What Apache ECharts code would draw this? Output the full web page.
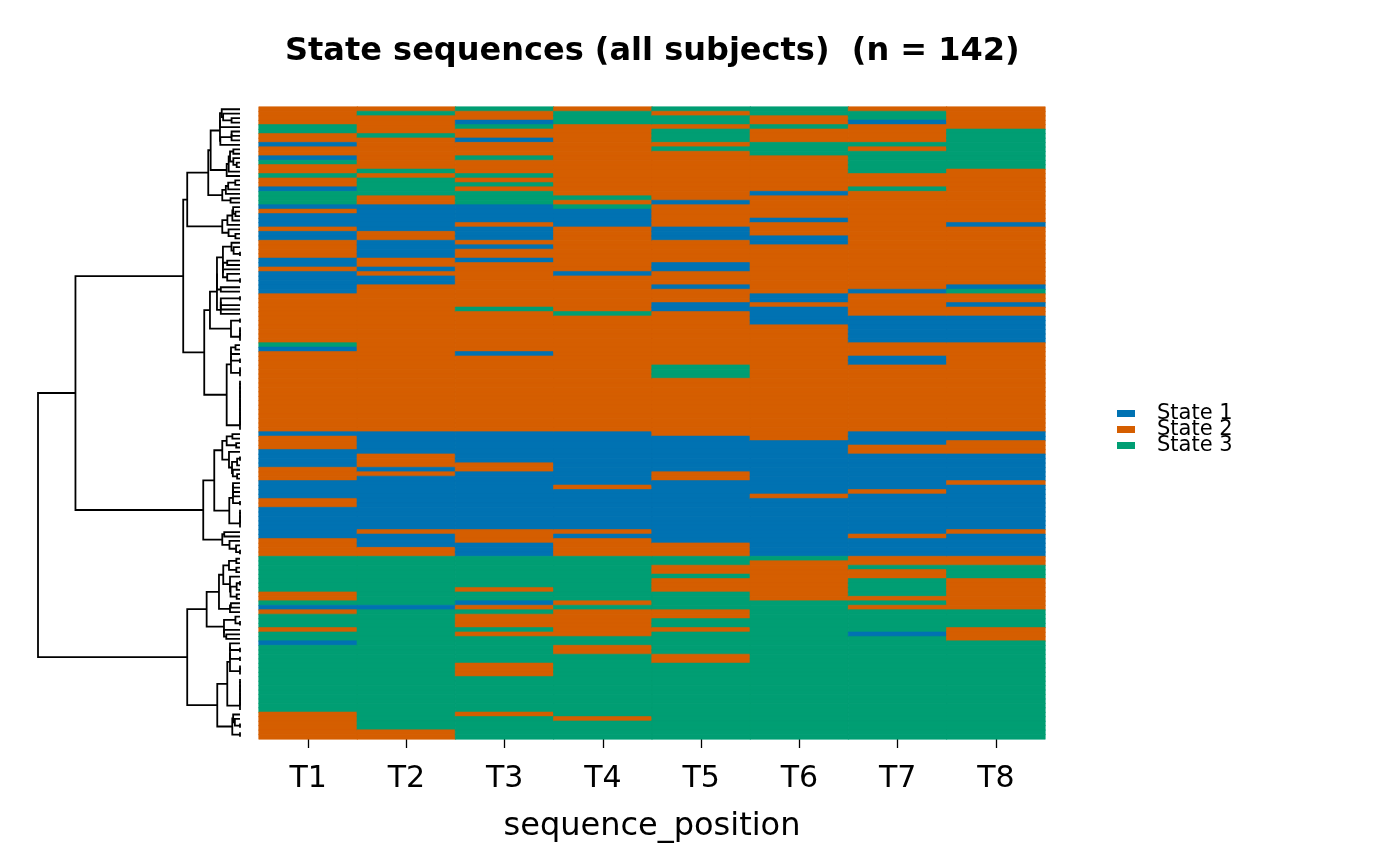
<!DOCTYPE html>
<html>
<head>
<meta charset="utf-8">
<title>State sequences</title>
<script src="https://cdn.jsdelivr.net/npm/echarts@6/dist/echarts.min.js"></script>
<style>
  html, body { margin: 0; padding: 0; background: #fff; }
  #chart { width: 1400px; height: 866px; }
</style>
</head>
<body>
<div id="chart"></div>
<script>
// sequence positions (columns of the heat map)
const positions = ['T1', 'T2', 'T3', 'T4', 'T5', 'T6', 'T7', 'T8'];
const stateNames = ['State 1', 'State 2', 'State 3'];
const stateColors = ['#0072B2', '#D55E00', '#009E73'];

// states of the 142 subjects, top row first, as runs of [state, number of rows]
const runsT1 = [[2,4],[3,2],[2,2],[1,1],[2,2],[1,1],[3,1],[2,2],[3,1],[2,2],[1,1],[3,3],[1,1],[2,1],[1,3],[2,1],[1,2],[2,4],[1,2],[2,1],[1,5],[2,11],[3,1],[1,1],[2,18],[1,1],[2,3],[1,4],[2,3],[1,4],[2,2],[1,7],[2,4],[3,8],[2,2],[3,1],[1,1],[2,1],[3,3],[2,1],[3,2],[1,1],[3,15],[2,6]];
const runsT2 = [[2,1],[3,1],[2,4],[3,1],[2,7],[3,1],[2,1],[3,4],[2,2],[1,6],[2,2],[1,4],[2,2],[1,1],[2,1],[1,2],[2,33],[1,5],[2,3],[1,1],[2,1],[1,12],[2,1],[1,3],[2,2],[3,11],[1,1],[3,27],[2,2]];
const runsT3 = [[3,1],[2,2],[1,1],[3,1],[2,2],[1,1],[2,3],[3,1],[2,3],[3,1],[2,1],[3,1],[2,1],[3,3],[1,4],[2,1],[1,3],[2,1],[1,1],[2,2],[1,1],[2,10],[3,1],[2,9],[1,1],[2,17],[1,7],[2,2],[1,13],[2,3],[1,3],[3,7],[2,1],[3,2],[1,1],[2,1],[3,1],[2,3],[3,1],[2,1],[3,6],[2,3],[3,8],[2,1],[3,5]];
const runsT4 = [[2,1],[3,3],[2,16],[3,1],[2,1],[3,1],[1,4],[2,10],[1,1],[2,8],[3,1],[2,26],[1,12],[2,1],[1,9],[2,1],[1,1],[2,4],[3,10],[2,1],[3,1],[2,6],[3,2],[2,2],[3,14],[2,1],[3,4]];
const runsT5 = [[3,1],[2,1],[3,2],[2,1],[3,3],[2,1],[3,1],[2,11],[1,1],[2,5],[1,3],[2,5],[1,2],[2,3],[1,1],[2,3],[1,2],[2,12],[3,3],[2,13],[1,8],[2,2],[1,14],[2,3],[3,2],[2,2],[3,1],[2,3],[3,4],[2,2],[3,2],[2,1],[3,5],[2,2],[3,17]];
const runsT6 = [[3,2],[2,2],[3,1],[2,3],[3,3],[2,8],[1,1],[2,5],[1,1],[2,3],[1,2],[2,11],[1,2],[2,1],[1,4],[2,26],[1,12],[2,1],[1,13],[3,1],[2,9],[3,31]];
const runsT7 = [[2,1],[3,2],[1,1],[2,4],[3,1],[2,1],[3,5],[2,3],[3,1],[2,22],[1,1],[2,5],[1,6],[2,3],[1,2],[2,15],[1,3],[2,2],[1,8],[2,1],[1,9],[2,1],[1,4],[2,2],[3,1],[2,2],[3,4],[2,1],[3,1],[2,1],[3,5],[1,1],[3,23]];
const runsT8 = [[2,5],[3,9],[2,12],[1,1],[2,13],[1,1],[3,1],[2,2],[1,1],[2,2],[1,6],[2,20],[1,2],[2,3],[1,6],[2,1],[1,10],[2,1],[1,5],[2,2],[3,3],[2,7],[3,4],[2,3],[3,22]];

// dendrogram clusters read off the tree: first row, last row, first row of the lower branch, height
// a null split means the branch order inside is worked out from the rows themselves
const clusterFirst  = [0,     0,     0,    0,    0,    0,    0,    9,    16,   22,   30,   30, 30,   47,   53,   53,   61,   73,   73,   73,   77,   73,   84,   84,   90,   95,   101,  101,  101,  101,  105,  101,  111,  114,  120,  120,  120,  128,  136];
const clusterLast   = [141,   100,   72,   29,   21,   15,   8,    15,   21,   29,   72,   52, 46,   52,   72,   60,   72,   100,  94,   83,   83,   76,   94,   89,   94,   100,  141,  119,  113,  110,  110,  104,  113,  119,  141,  135,  127,  135,  141];
const clusterSplit  = [101,   73,    30,   22,   16,   9,    null, null, null, null, 53,   47, null, null, 61,   null, null, 95,   84,   77,   null, null, 90,   null, null, null, 120,  114,  111,  105,  null, null, null, null, 136,  128,  null, null, null];
const clusterHeight = [201.7, 164.3, 56.7, 52.7, 31.7, 29.3, 20,   13.3, 17.7, 17.7, 35.7, 30, 23,   9,    13.3, 9,    0,    36.7, 25.7, 17.7, 11,   13.3, 10.7, 7,    0,    17.7, 52.7, 33.3, 21,   16.7, 10,   11,   10,   16,   22.7, 12.7, 10,   0,    7.7];

function expandRuns(runs) {
  const out = [];
  runs.forEach(function (r) {
    for (let k = 0; k < r[1]; k++) out.push(r[0]);
  });
  return out;
}

const columns = [runsT1, runsT2, runsT3, runsT4, runsT5, runsT6, runsT7, runsT8].map(expandRuns);
const nRows = columns[0].length;
const rowSeq = [];
for (let i = 0; i < nRows; i++) {
  rowSeq.push(columns.map(function (c) { return c[i]; }));
}

function hamming(a, b) {
  let d = 0;
  for (let k = 0; k < a.length; k++) if (a[k] !== b[k]) d++;
  return d;
}

function avgDist(a, b) {
  let s = 0;
  for (let i = a.first; i <= a.last; i++) {
    for (let j = b.first; j <= b.last; j++) s += hamming(rowSeq[i], rowSeq[j]);
  }
  return s / ((a.last - a.first + 1) * (b.last - b.first + 1));
}

// average linkage where only neighbouring rows may join, so the row order is kept
function clusterRange(first, last) {
  let nodes = [];
  for (let i = first; i <= last; i++) nodes.push({ first: i, last: i, h: 0, y: i });
  while (nodes.length > 1) {
    let best = 0, bestD = Infinity;
    for (let k = 0; k < nodes.length - 1; k++) {
      const d = avgDist(nodes[k], nodes[k + 1]);
      if (d < bestD - 1e-9) { bestD = d; best = k; }
    }
    const a = nodes[best], b = nodes[best + 1];
    nodes.splice(best, 2, {
      left: a, right: b, first: a.first, last: b.last,
      h: Math.max(bestD, a.h, b.h), y: (a.y + b.y) / 2
    });
  }
  return nodes[0];
}

function scaleTree(t, f) {
  if (!t.left) return;
  t.h *= f;
  scaleTree(t.left, f);
  scaleTree(t.right, f);
}

function build(first, last) {
  if (first === last) return { first: first, last: last, h: 0, y: first };
  let idx = -1;
  for (let k = 0; k < clusterFirst.length; k++) {
    if (clusterFirst[k] === first && clusterLast[k] === last) { idx = k; break; }
  }
  if (idx >= 0 && clusterSplit[idx] !== null) {
    const a = build(first, clusterSplit[idx] - 1);
    const b = build(clusterSplit[idx], last);
    return { left: a, right: b, first: first, last: last, h: clusterHeight[idx], y: (a.y + b.y) / 2 };
  }
  const t = clusterRange(first, last);
  if (idx >= 0 && t.h > 0) scaleTree(t, clusterHeight[idx] / t.h);
  return t;
}

const tree = build(0, nRows - 1);
const branchLines = [];
(function walk(t) {
  if (!t.left) return;
  branchLines.push({ coords: [[t.left.h, t.left.y], [t.h, t.left.y], [t.h, t.right.y], [t.right.h, t.right.y]] });
  walk(t.left);
  walk(t.right);
})(tree);

// the border in the cell colour hides the hairline seams between rows
const cells = [];
columns.forEach(function (col, ci) {
  col.forEach(function (s, ri) {
    cells.push({ value: [ci, ri, s], itemStyle: { borderColor: stateColors[s - 1], borderWidth: 0.6 } });
  });
});
const rowLabels = rowSeq.map(function (r, i) { return String(i + 1); });

const font = 'DejaVu Sans';
const chart = echarts.init(document.getElementById('chart'));
chart.setOption({
  animation: false,
  backgroundColor: '#fff',
  title: {
    text: 'State sequences (all subjects)  (n = 142)',
    left: 285,
    top: 36,
    padding: 0,
    textStyle: { fontFamily: font, fontSize: 32, fontWeight: 'bold', color: '#000' }
  },
  grid: [
    { left: 259, top: 107, width: 786, height: 632 },
    { left: 38, top: 107, width: 202, height: 632 }
  ],
  xAxis: [{
    type: 'category',
    gridIndex: 0,
    data: positions,
    axisLine: { show: false },
    axisTick: { show: true, alignWithLabel: true, length: 9, lineStyle: { color: '#000', width: 1.3 } },
    axisLabel: { fontFamily: font, fontSize: 30, color: '#000', margin: 25 },
    splitLine: { show: false },
    name: 'sequence_position',
    nameLocation: 'middle',
    nameGap: 72,
    nameTextStyle: { fontFamily: font, fontSize: 32, color: '#000' }
  }, {
    type: 'value',
    gridIndex: 1,
    min: 0,
    max: clusterHeight[0],
    inverse: true,
    show: false
  }],
  yAxis: [{
    type: 'category',
    gridIndex: 0,
    data: rowLabels,
    inverse: true,
    show: false
  }, {
    type: 'value',
    gridIndex: 1,
    min: -0.5,
    max: nRows - 0.5,
    inverse: true,
    show: false
  }],
  visualMap: {
    type: 'piecewise',
    seriesIndex: 0,
    dimension: 2,
    orient: 'vertical',
    inverse: true,
    align: 'left',
    left: 1117,
    top: 403,
    padding: 0,
    itemWidth: 18,
    itemHeight: 7,
    itemGap: -5,
    textGap: 22,
    itemSymbol: 'rect',
    hoverLink: false,
    selectedMode: false,
    pieces: stateNames.map(function (name, i) {
      return { value: i + 1, label: name, color: stateColors[i] };
    }),
    textStyle: { fontFamily: font, fontSize: 21, color: '#000' }
  },
  series: [{
    type: 'heatmap',
    xAxisIndex: 0,
    yAxisIndex: 0,
    data: cells,
    emphasis: { disabled: true }
  }, {
    type: 'lines',
    coordinateSystem: 'cartesian2d',
    xAxisIndex: 1,
    yAxisIndex: 1,
    polyline: true,
    silent: true,
    data: branchLines,
    lineStyle: { color: '#000', width: 1.8, opacity: 1 }
  }]
});
</script>
</body>
</html>
